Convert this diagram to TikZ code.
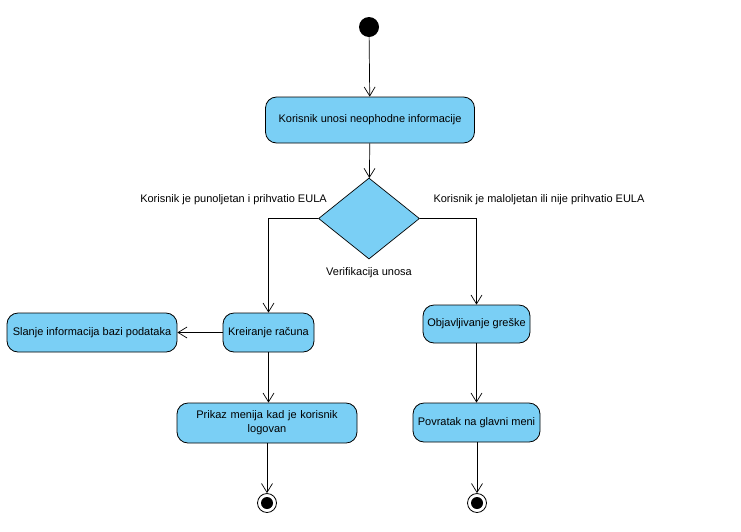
\documentclass[tikz,border=0pt]{standalone}
\usepackage{fontspec}
\setmainfont{Liberation Sans}
\usetikzlibrary{arrows.meta,shapes.geometric}
\definecolor{actfill}{RGB}{122,207,245}
\tikzset{
  act/.style={draw=black, fill=actfill, rounded corners=11pt, line width=0.8pt, align=center, font=\fontsize{11}{14}\selectfont, inner sep=2pt},
  flow/.style={draw=black, line width=0.7pt, -{Straight Barb[length=9pt, width=11pt, line width=0.7pt]}},
  lbl/.style={font=\fontsize{11}{14}\selectfont, inner sep=0pt},
}
\begin{document}
\begin{tikzpicture}[x=1pt, y=-1pt]
\useasboundingbox (0,0) rectangle (741,531);
\node[circle, fill=black, minimum size=20pt, inner sep=0pt] (start) at (369,27) {};
\node[act, minimum width=209pt, minimum height=46pt] (a1) at (370,120) {Korisnik unosi neophodne informacije};
\node[diamond, draw=black, fill=actfill, line width=0.7pt, minimum width=101pt, minimum height=81pt, inner sep=0pt] (d) at (369,218.5) {};
\node[lbl] (dl) at (369,273) {Verifikacija unosa};
\node[lbl] (ly) at (233.5,200) {Korisnik je punoljetan i prihvatio EULA};
\node[lbl] (ln) at (539,200) {Korisnik je maloljetan ili nije prihvatio EULA};
\node[act, minimum width=91pt, minimum height=39pt] (kr) at (268.5,332.5) {Kreiranje računa};
\node[act, minimum width=170pt, minimum height=39pt] (sl) at (92,332.5) {Slanje informacija bazi podataka};
\node[act, minimum width=180pt, minimum height=40pt, text width=170pt] (pm) at (267,423) {Prikaz menija kad je korisnik\\ logovan};
\node[act, minimum width=107pt, minimum height=38pt] (ob) at (476.5,324) {Objavljivanje greške};
\node[act, minimum width=127pt, minimum height=39pt] (pv) at (476.5,422.5) {Povratak na glavni meni};
\node[circle, draw=black, fill=white, line width=0.8pt, minimum size=19pt, inner sep=0pt] (e1) at (267,503) {};
\node[circle, fill=black, minimum size=12pt, inner sep=0pt] at (e1) {};
\node[circle, draw=black, fill=white, line width=0.8pt, minimum size=19pt, inner sep=0pt] (e2) at (477,503) {};
\node[circle, fill=black, minimum size=12pt, inner sep=0pt] at (e2) {};
\draw[flow] (start) -- (a1);
\draw[flow] (a1) -- (d);
\draw[flow] (d.west) -| (kr.north);
\draw[flow] (d.east) -| (ob.north);
\draw[flow] (kr) -- (sl);
\draw[flow] (kr) -- (kr.center |- pm.north);
\draw[flow] (ob) -- (ob.center |- pv.north);
\draw[flow] (pm.south -| e1) -- (e1);
\draw[flow] (pv.south -| e2) -- (e2);
\end{tikzpicture}
\end{document}
